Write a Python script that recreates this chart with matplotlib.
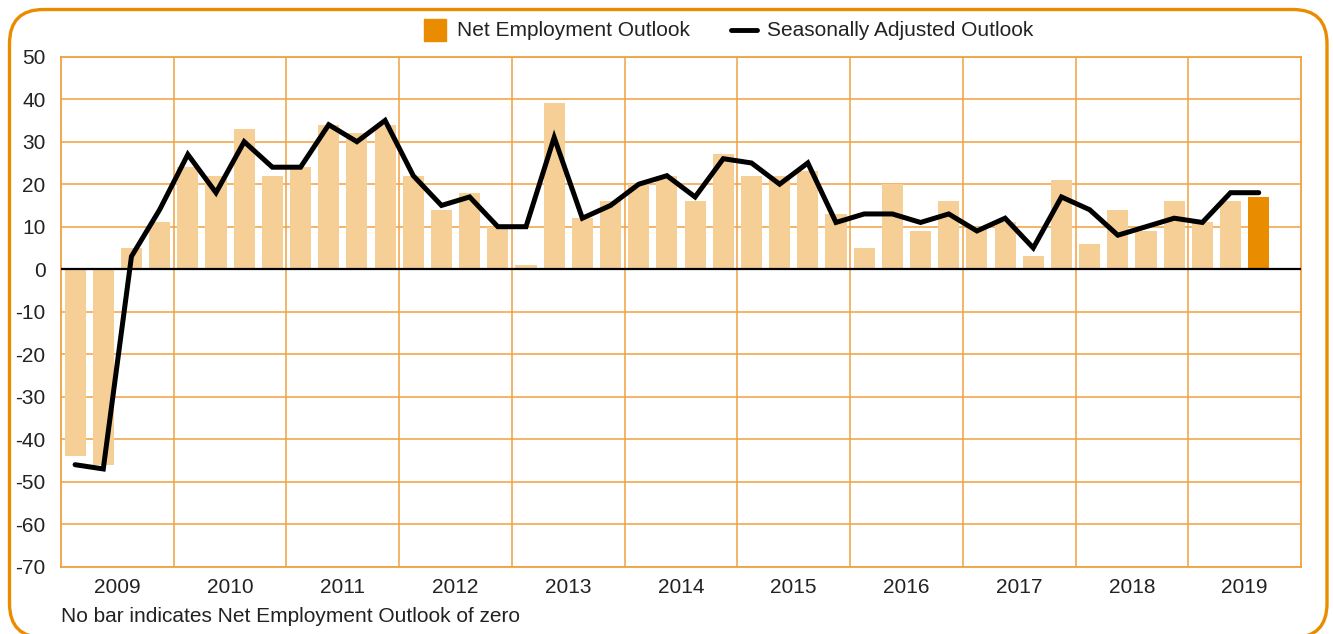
import matplotlib.pyplot as plt
from matplotlib.patches import FancyBboxPatch, Rectangle
from matplotlib.lines import Line2D
from matplotlib.ticker import FixedLocator

plt.rcParams['font.family'] = ['Liberation Sans', 'DejaVu Sans']
plt.rcParams['axes.unicode_minus'] = False

years = ['2009', '2010', '2011', '2012', '2013', '2014',
         '2015', '2016', '2017', '2018', '2019']

# quarterly values, 2009 Q1 .. 2019 Q3
net_outlook = [-44, -46, 5, 11,
               24, 22, 33, 22,
               24, 34, 32, 34,
               22, 14, 18, 10,
               1, 39, 12, 16,
               20, 22, 16, 27,
               22, 22, 23, 13,
               5, 20, 9, 16,
               10, 11, 3, 21,
               6, 14, 9, 16,
               11, 16, 17]
seasonal_adj = [-46, -47, 3, 14,
                27, 18, 30, 24,
                24, 34, 30, 35,
                22, 15, 17, 10,
                10, 31, 12, 15,
                20, 22, 17, 26,
                25, 20, 25, 11,
                13, 13, 11, 13,
                9, 12, 5, 17,
                14, 8, 10, 12,
                11, 18, 18]

orange = '#EA8C00'
grid_c = '#F0A040'
light = '#F6CF96'
txt = '#222222'

W, H = 1333, 634
fig = plt.figure(figsize=(W / 100, H / 100), dpi=100)
ax = fig.add_axes([61 / W, 1 - 566.7 / H, (1301 - 61) / W, (566.7 - 56.7) / H])

n = len(net_outlook)
xs = list(range(n))
colors = [light] * (n - 1) + [orange]
ax.bar(xs, net_outlook, width=0.75, color=colors, zorder=2)
ax.plot(xs, seasonal_adj, color='black', lw=3.6, zorder=4,
        solid_joinstyle='miter', solid_capstyle='round')
ax.axhline(0, color='black', lw=1.6, zorder=3)

nq = 4 * len(years)
ax.set_xlim(-0.5, nq - 0.5)
ax.set_ylim(-70, 50)
ax.set_yticks(range(-70, 51, 10))
ax.xaxis.set_major_locator(FixedLocator([4 * i + 1.5 for i in range(len(years))]))
ax.set_xticklabels(years)
ax.xaxis.set_minor_locator(FixedLocator([4 * i - 0.5 for i in range(1, len(years))]))
ax.tick_params(axis='both', which='both', length=0, labelsize=15, colors=txt)
ax.tick_params(axis='y', pad=11)
ax.tick_params(axis='x', pad=8)
ax.grid(axis='y', which='major', color=grid_c, lw=1.1, zorder=0)
ax.grid(axis='x', which='minor', color=grid_c, lw=1.1, zorder=0)
ax.set_axisbelow(True)
for s in ax.spines.values():
    s.set_color(grid_c)
    s.set_linewidth(1.3)

# legend drawn by hand
fig.patches.append(Rectangle((424 / W, 1 - 41 / H), 22 / W, 22 / H,
                             transform=fig.transFigure, color=orange))
fig.text(457 / W, 1 - 30 / H, 'Net Employment Outlook', fontsize=15,
         color=txt, va='center', ha='left')
fig.lines.append(Line2D([731 / W, 757 / W], [1 - 30 / H, 1 - 30 / H],
                        transform=fig.transFigure, color='black', lw=3.5,
                        solid_capstyle='round'))
fig.text(767 / W, 1 - 30 / H, 'Seasonally Adjusted Outlook', fontsize=15,
         color=txt, va='center', ha='left')

fig.text(61 / W, 1 - 616 / H, 'No bar indicates Net Employment Outlook of zero',
         fontsize=15, color=txt, va='center', ha='left')

# rounded frame, bottom edge runs just off the picture
fig.patches.append(FancyBboxPatch((0.095, -0.035), 13.175, 6.28,
                                  boxstyle='round,pad=0,rounding_size=0.34',
                                  transform=fig.dpi_scale_trans,
                                  fill=False, ec=orange, lw=2.4))

fig.savefig('out.png', dpi=100)
